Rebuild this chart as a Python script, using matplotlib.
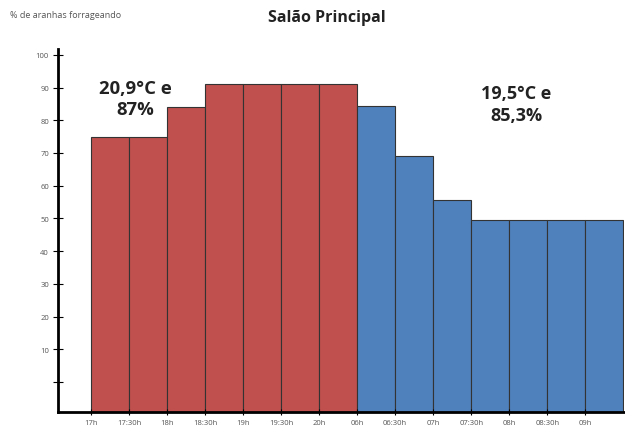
import matplotlib.pyplot as plt
import numpy as np

plt.rcParams['font.family'] = ['Open Sans', 'DejaVu Sans']

# Data
horarios = ["17h", "17:30h", "18h", "18:30h", "19h", "19:30h", "20h",
            "06h", "06:30h", "07h", "07:30h", "08h", "08:30h", "09h"]
noite = [75, 75, 84, 91, 91, 91, 91]
manha = [84.5, 69, 55.5, 49.5, 49.5, 49.5, 49.5]
yticks = [0, 10, 20, 30, 40, 50, 60, 70, 80, 90, 100]
yticklabels = ["", "10", "20", "30", "40", "50", "60", "70", "80", "90", "100"]

valores = noite + manha
cores = ['#C0504D'] * len(noite) + ['#4F81BD'] * len(manha)
ymin, ymax = -9.2, 101.8

fig = plt.figure(figsize=(6.25, 4.35), dpi=100)
ax = fig.add_axes([58 / 625, 1 - 413 / 435, 566 / 625, 363 / 435])

x = np.arange(len(valores))
ax.bar(x, np.array(valores) - ymin, width=1.0, bottom=ymin, align='edge',
       color=cores, edgecolor='#333333', linewidth=0.8)

ax.set_xlim(-0.87, len(valores) + 0.02)
ax.set_ylim(ymin, ymax)

ax.set_yticks(yticks)
ax.set_yticklabels(yticklabels, fontsize=5.5, color='#555555')
ax.set_xticks(x)
ax.set_xticklabels(horarios, fontsize=5.5, color='#555555')
ax.tick_params(axis='y', direction='inout', length=7, width=0.8, pad=3)
ax.tick_params(axis='x', direction='inout', length=4, width=0.8, pad=3)

for s in ['top', 'right']:
    ax.spines[s].set_visible(False)
ax.spines['left'].set_linewidth(2)
ax.spines['bottom'].set_linewidth(2)

ax.text(1.16, 86.7, "20,9°C e\n87%", ha='center', va='center', fontsize=13.3,
        fontweight='bold', color='#222222', linespacing=1.25)
ax.text(11.18, 85.0, "19,5°C e\n85,3%", ha='center', va='center', fontsize=13,
        fontweight='bold', color='#222222', linespacing=1.25)

fig.text(327 / 625, 1 - 18 / 435, "Salão Principal", ha='center', va='center',
         fontsize=11.5, fontweight='bold', color='#222222')
fig.text(10 / 625, 1 - 15 / 435, "% de aranhas forrageando", ha='left', va='center',
         fontsize=6.5, color='#555555')

fig.savefig('out.png', dpi=100)
